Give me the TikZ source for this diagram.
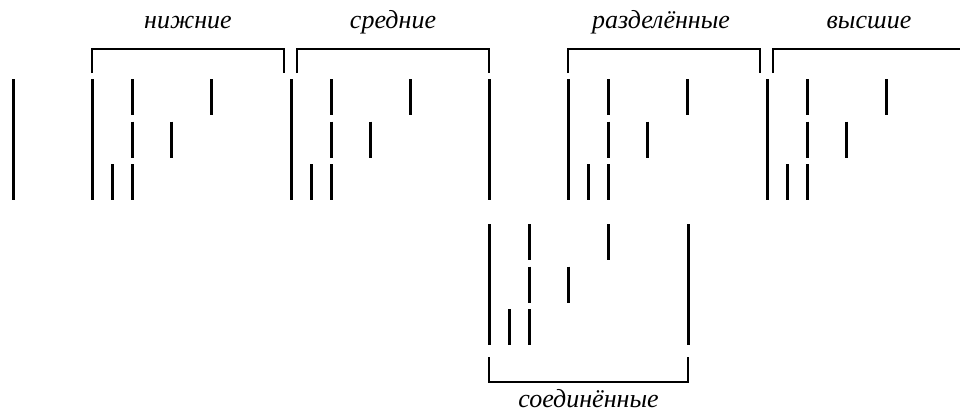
\documentclass[tikz,border=0pt]{standalone}
\usepackage{fontspec}
\setmainfont{Liberation Serif}
\begin{document}
\begin{tikzpicture}[x=1pt,y=-1pt,
  bar/.style={line width=3pt},
  brk/.style={line width=1.2pt},
  lbl/.style={font=\fontsize{26}{28}\selectfont\itshape, anchor=base, inner sep=0pt},
  pics/chord/.style={code={
    \draw[bar] (40,0) -- (40,36);
    \draw[bar] (40,42.5) -- (40,78.5);
    \draw[bar] (40,85) -- (40,121);
    \draw[bar] (20,85) -- (20,121);
    \draw[bar] (79,42.5) -- (79,78.5);
    \draw[bar] (119,0) -- (119,36);
  }}]
\useasboundingbox (0,0) rectangle (960,412);
% full-height bars, top row
\foreach \x in {13,92,291,489,568,767}
  \draw[bar] (\x,79) -- (\x,200);
% chords, top row
\foreach \x in {92,291,568,767}
  \pic at (\x,79) {chord};
% bottom group
\draw[bar] (489,224) -- (489,345);
\draw[bar] (688,224) -- (688,345);
\pic at (489,224) {chord};
% brackets, top
\draw[brk] (92,73) -- (92,49) -- (284,49) -- (284,73);
\draw[brk] (297,73) -- (297,49) -- (489,49) -- (489,73);
\draw[brk] (568,73) -- (568,49) -- (760,49) -- (760,73);
\draw[brk] (773,73) -- (773,49) -- (966,49) -- (966,73);
% bracket, bottom
\draw[brk] (489,357) -- (489,382) -- (688,382) -- (688,357);
% labels
\node[lbl] (l1) at (188,29) {нижние};
\node[lbl] (l2) at (393,29) {средние};
\node[lbl] (l3) at (661,29) {разделённые};
\node[lbl] (l4) at (869,29) {высшие};
\node[lbl] (l5) at (588.5,407) {соединённые};
\end{tikzpicture}
\end{document}
